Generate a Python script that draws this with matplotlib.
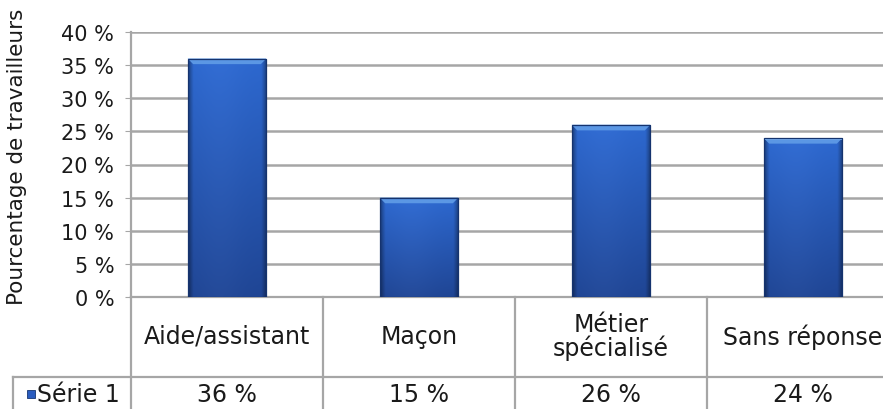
import numpy as np
import matplotlib
matplotlib.use("Agg")
import matplotlib.pyplot as plt
from matplotlib.colors import to_rgb
from matplotlib.patches import Rectangle, Polygon

categories = ["Aide/assistant", "Maçon", "Métier\nspécialisé", "Sans réponse"]
values = [36, 15, 26, 24]
series_name = "Série 1"
y_ticks = [0, 5, 10, 15, 20, 25, 30, 35, 40]
y_label = "Pourcentage de travailleurs"

W, H = 883, 410
fig = plt.figure(figsize=(W / 100, H / 100), dpi=100)
fig.patch.set_facecolor("white")

# plot area in pixels: left 131, bottom at y=298, top at y=33, 192 px per category
px_left, px_w = 131, 768
px_zero, px_top = 298, 33
ax = fig.add_axes([px_left / W, (H - px_zero) / H, px_w / W, (px_zero - px_top) / H])
ax.set_xlim(0, len(categories))
ax.set_ylim(0, 40)

grid_col = "#a6a6a6"
for s in ["top", "right", "bottom"]:
    ax.spines[s].set_visible(False)
ax.spines["left"].set_color(grid_col)
ax.spines["left"].set_linewidth(1.6)
ax.set_yticks(y_ticks)
ax.set_yticklabels([f"{t} %" for t in y_ticks], fontsize=15, color="#1a1a1a")
ax.tick_params(axis="y", length=4, color=grid_col, pad=8)
ax.set_xticks([])
ax.yaxis.grid(True, color=grid_col, linewidth=1.8)
ax.set_axisbelow(True)

# bar shading: brighter at the top, darker at the bottom, darker rims on the sides
top_c = np.array(to_rgb("#2d68cf"))
bot_c = np.array(to_rgb("#1f4594"))
ny, nx = 96, 48
v = np.linspace(0, 1, ny)[:, None, None]
u = np.linspace(0, 1, nx)[None, :, None]
shade = bot_c * (1 - v) + top_c * v
rim = np.clip(1 - np.minimum(u, 1 - u) / 0.06, 0, 1)
shade = shade * (1 - 0.35 * rim) + 0.02 * (1 - rim) * np.exp(-((u - 0.4) / 0.3) ** 2)
shade = np.clip(shade, 0, 1)

xpos = np.arange(len(categories)) + 0.5
bars = ax.bar(xpos, values, width=0.41, color="#2856b8", edgecolor="none", zorder=2)
bevel_h = 0.85
for b in bars:
    x0, w, h = b.get_x(), b.get_width(), b.get_height()
    im = ax.imshow(shade, extent=[x0, x0 + w, 0, h], origin="lower",
                   aspect="auto", zorder=3, interpolation="bilinear")
    im.set_clip_path(b)
    # light bevel along the top edge, with slanted corners
    inset = w * 0.07
    ax.add_patch(Polygon([(x0, h), (x0 + w, h), (x0 + w - inset, h - bevel_h),
                          (x0 + inset, h - bevel_h)], closed=True,
                         facecolor="#5b97e4", edgecolor="none", zorder=4))
    ax.add_patch(Rectangle((x0, h - 0.25), w, 0.25, facecolor="#78aef0",
                           edgecolor="none", zorder=4))
    ax.add_patch(Rectangle((x0, 0), w, h, facecolor="none",
                           edgecolor="#15336e", linewidth=0.9, zorder=5))
ax.set_xlim(0, len(categories))
ax.set_ylim(0, 40)

fig.text(17 / W, 1 - 157 / H, y_label, rotation=90, ha="center", va="center",
         fontsize=15.5, color="#1a1a1a")

# data table below the plot
def ay(py):
    return (px_zero - py) / (px_zero - px_top)

def axx(px):
    return (px - px_left) / px_w

tbl_col = "#a6a6a6"
lines_kw = dict(color=tbl_col, linewidth=1.6, clip_on=False, transform=ax.transAxes)
ax.plot([0, 1.05], [0, 0], **lines_kw)
ax.plot([axx(13), 1.05], [ay(378), ay(378)], **lines_kw)
ax.plot([axx(13), axx(13)], [ay(378), ay(420)], **lines_kw)
for i in range(len(categories)):
    xb = i / len(categories)
    ax.plot([xb, xb], [0, ay(420)], **lines_kw)

trans = ax.get_xaxis_transform()
for xc, cat, val in zip(xpos, categories, values):
    ax.text(xc, ay(337), cat, transform=trans, ha="center", va="center",
            fontsize=17, color="#1a1a1a", linespacing=0.95, clip_on=False)
    ax.text(xc, ay(395), f"{val} %", transform=trans, ha="center", va="center",
            fontsize=17, color="#1a1a1a", clip_on=False)

ax.add_patch(Rectangle((axx(27), ay(399)), axx(35) - axx(27), ay(391) - ay(399),
                       transform=ax.transAxes, facecolor="#2a5cbf",
                       edgecolor="#163672", linewidth=0.6, clip_on=False))
ax.text(axx(37), ay(395), series_name, transform=ax.transAxes, ha="left",
        va="center", fontsize=17, color="#1a1a1a", clip_on=False)

fig.savefig("out.png", dpi=100)
